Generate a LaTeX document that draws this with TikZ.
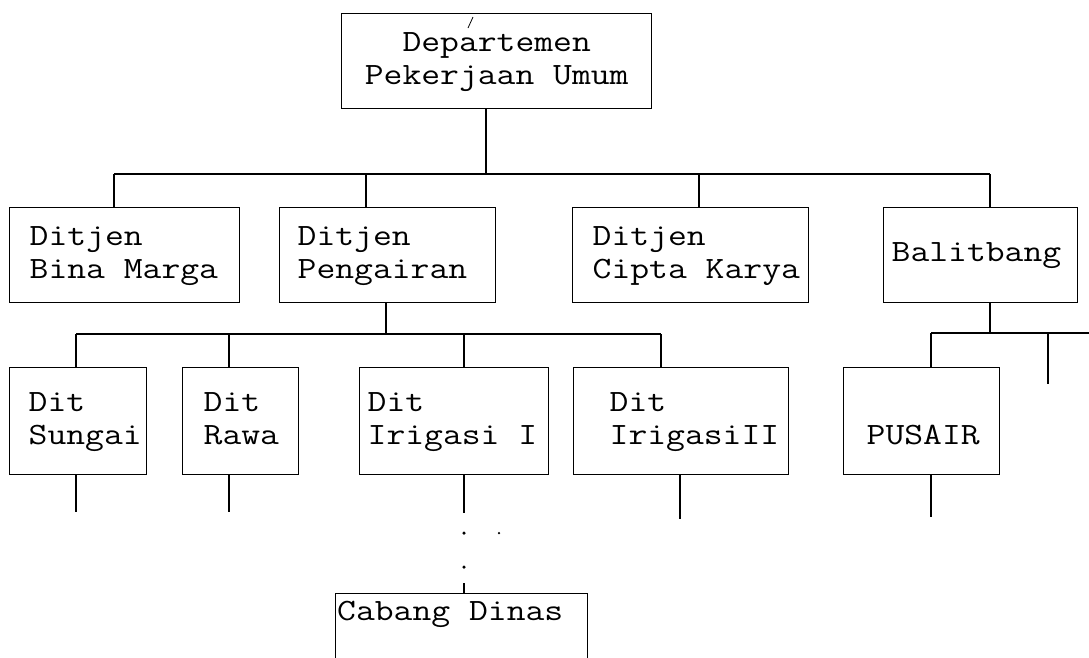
\documentclass[tikz,border=0pt]{standalone}
\usepackage{fontspec}
\newfontfamily\monofnt{Latin Modern Mono}[FakeStretch=1.18]
\begin{document}
\begin{tikzpicture}[x=1pt,y=-1pt,
  box/.style={draw, line width=1.4pt, anchor=north west, font=\monofnt\fontsize{31}{33}\selectfont, align=left, inner ysep=0pt,
    execute at begin node={\spaceskip=0pt\xspaceskip=0pt}},
  txt/.style={font=\monofnt\fontsize{31}{33}\selectfont, inner sep=0pt},
  conn/.style={line width=1.4pt},
  dot/.style={circle, fill=black, inner sep=0pt, minimum size=3.5pt}]
\clip (0,0) rectangle (1089,657);
% top
\node[box, align=center, minimum width=310pt, minimum height=95pt, text width=290pt, inner xsep=10pt] (dpu) at (341,13) {Departemen\strut\\\mbox{Pekerjaan Umum}\strut};
% level 1
\node[box, minimum width=230pt, minimum height=95pt, text width=190pt, inner xsep=20pt] (bm) at (9,207) {Ditjen\strut\\\mbox{Bina Marga}\strut};
\node[box, minimum width=216pt, minimum height=95pt, text width=180pt, inner xsep=18pt] (pg) at (279,207) {Ditjen\strut\\Pengairan\strut};
\node[box, minimum width=236pt, minimum height=95pt, text width=196pt, inner xsep=20pt] (ck) at (572,207) {Ditjen\strut\\\mbox{Cipta Karya}\strut};
\node[box, minimum width=194pt, minimum height=95pt, text width=178pt, inner xsep=8pt] (bl) at (883,207) {Balitbang\strut};
% level 2
\node[box, minimum width=137pt, minimum height=107pt, text width=99pt, inner xsep=19pt] (sg) at (9,367) {Dit\strut\\Sungai\strut};
\node[box, minimum width=116pt, minimum height=107pt, text width=74pt, inner xsep=21pt] (rw) at (182,367) {Dit\strut\\Rawa\strut};
\node[box, minimum width=189pt, minimum height=107pt, text width=173pt, inner xsep=8pt] (i1) at (359,367) {Dit\strut\\\mbox{Irigasi I}\strut};
\node[box, minimum width=215pt, minimum height=107pt, text width=143pt, inner xsep=36pt] (i2) at (573,367) {Dit\strut\\IrigasiII\strut};
\node[box, minimum width=156pt, minimum height=107pt, text width=110pt, inner xsep=23pt] (ps) at (843,367) {\strut\\PUSAIR\strut};
% Cabang Dinas
\node[draw, line width=1.4pt, anchor=north west, minimum width=252pt, minimum height=120pt, inner sep=0pt] (cdbox) at (335,593) {};
\node[txt, anchor=base west] (cd) at (337,620) {Cabang Dinas};
% connectors level 0-1
\coordinate (d0) at (486,174);
\coordinate (j1) at (114,174);
\coordinate (j2) at (366,174);
\coordinate (j3) at (699,174);
\coordinate (j4) at (990,174);
\draw[conn] (d0 |- dpu.south) -- (d0);
\draw[conn] (j1) -- (j4);
\draw[conn] (j1) -- (j1 |- bm.north);
\draw[conn] (j2) -- (j2 |- pg.north);
\draw[conn] (j3) -- (j3 |- ck.north);
\draw[conn] (j4) -- (j4 |- bl.north);
\draw[line width=0.8pt] (473,17) -- (468,28);
% level 2 (Pengairan)
\coordinate (p2) at (386,334);
\coordinate (k1) at (76,334);
\coordinate (k2) at (229,334);
\coordinate (k3) at (464,334);
\coordinate (k4) at (661,334);
\draw[conn] (p2 |- pg.south) -- (p2);
\draw[conn] (k1) -- (k4);
\draw[conn] (k1) -- (k1 |- sg.north);
\draw[conn] (k2) -- (k2 |- rw.north);
\draw[conn] (k3) -- (k3 |- i1.north);
\draw[conn] (k4) -- (k4 |- i2.north);
% level 2 (Balitbang)
\coordinate (q0) at (990,333);
\coordinate (q1) at (931,333);
\coordinate (qR) at (1089,333);
\coordinate (q2) at (1048,333);
\coordinate (q3) at (1048,384);
\draw[conn] (q0 |- bl.south) -- (q0);
\draw[conn] (q1) -- (qR);
\draw[conn] (q1) -- (q1 |- ps.north);
\draw[conn] (q2) -- (q3);
% bottom drops
\coordinate (e1) at (76,512);
\coordinate (e2) at (229,512);
\coordinate (e3) at (464,513);
\coordinate (e4) at (680,519);
\coordinate (e5) at (931,517);
\draw[conn] (e1 |- sg.south) -- (e1);
\draw[conn] (e2 |- rw.south) -- (e2);
\draw[conn] (e3 |- i1.south) -- (e3);
\draw[conn] (e4 |- i2.south) -- (e4);
\draw[conn] (e5 |- ps.south) -- (e5);
% dots to Cabang Dinas
\node[dot] (o1) at (464,533) {};
\node[dot] (o2) at (464,567) {};
\node[dot, minimum size=2.5pt] (o3) at (499,533) {};
\coordinate (t1) at (464,583);
\draw[conn] (t1) -- (t1 |- cdbox.north);
\end{tikzpicture}
\end{document}
